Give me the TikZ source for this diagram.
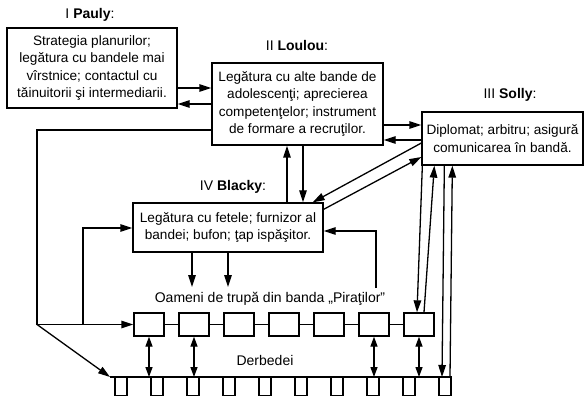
\documentclass[tikz,border=0pt]{standalone}
\usepackage{fontspec}
\setmainfont{Liberation Sans}
\usetikzlibrary{calc, positioning}
\usetikzlibrary{arrows.meta}

\begin{document}
\begin{tikzpicture}[x=1pt, y=-1pt, line width=1.3pt,
  box/.style={draw, align=center, inner sep=0pt, font=\fontsize{13.6}{17.5}\selectfont},
  title/.style={font=\fontsize{14}{16}\selectfont},
  arr/.style={-{Triangle[length=12pt, width=7.5pt]}},
  darr/.style={{Triangle[length=10pt, width=7pt]}-{Triangle[length=10pt, width=7pt]}},
  trupa/.style={draw, minimum width=30pt, minimum height=23pt, inner sep=0pt},
  derb/.style={draw, anchor=north, minimum width=12pt, minimum height=18pt, inner sep=0pt}]
\useasboundingbox (0,0) rectangle (587,401);

% the four leaders
\node[title] (tpauly) at (90,15) {I \textbf{Pauly}:};
\node[box, minimum width=170pt, minimum height=80pt] (pauly) at (92,68)
  {Strategia planurilor;\\ legătura cu bandele mai\\ vîrstnice; contactul cu\\ tăinuitorii şi intermediarii.};
\node[title] (tloulou) at (297,45) {II \textbf{Loulou}:};
\node[box, minimum width=171pt, minimum height=82pt] (loulou) at (297.5,104)
  {Legătura cu alte bande de\\ adolescenţi; aprecierea\\ competenţelor; instrument\\ de formare a recruţilor.};
\node[title] (tsolly) at (510,95) {III \textbf{Solly}:};
\node[box, minimum width=161pt, minimum height=53pt] (solly) at (502.5,138.5)
  {Diplomat; arbitru; asigură\\ comunicarea în bandă.};
\node[title] (tblacky) at (233,187) {IV \textbf{Blacky}:};
\node[box, minimum width=190pt, minimum height=49pt] (blacky) at (228,227.5)
  {Legătura cu fetele; furnizor al\\ bandei; bufon; ţap ispăşitor.};

% troops and loafers
\node[title] (oameni) at (270,299) {Oameni de trupă din banda „Piraţilor”};
\foreach \i in {1,...,7}
  \node[trupa] (t\i) at ({104+45*\i},324.5) {};
\foreach \i [evaluate=\i as \j using int(\i+1)] in {1,...,6}
  \draw (t\i.east) -- (t\j.west);
\node[title] (derbedei) at (265,360) {Derbedei};
\coordinate (dstart) at (110,377);
\foreach \i in {0,...,9}
  \node[derb] (d\i) at ({121+36*\i},377) {};
\draw (dstart) -- (d9.north east);

% helper levels
\coordinate (h88) at (0,88);
\coordinate (h125) at (0,125);
\coordinate (h130) at (0,130);
\coordinate (h140) at (0,140);
\coordinate (h228) at (0,228);
\coordinate (h231) at (0,231);
\coordinate (h287) at (0,287);
\coordinate (h288) at (0,288);
\coordinate (v287) at (287,0);
\coordinate (v303) at (303,0);
\coordinate (v192) at (192,0);
\coordinate (v228) at (228,0);
\coordinate (v376) at (376,0);
\coordinate (corner) at (37,324.5);
\coordinate (fork) at (83,324.5);

% connectors
\draw[arr] (pauly.east |- h88) -- (loulou.west |- h88);
\draw[arr] (loulou.west) -- (loulou.west -| pauly.east);
\draw[arr] (loulou.east |- h125) -- (solly.west |- h125);
\draw[arr] (solly.west |- h140) -- (loulou.east |- h140);
\draw[arr] (v287 |- blacky.north) -- (v287 |- loulou.south);
\draw[arr] (v303 |- loulou.south) -- (v303 |- blacky.north);
\draw[arr] ($(solly.west)+(0,4.5)$) -- ($(blacky.north east)+(-11,0)$);
\draw[arr] ($(blacky.north east)+(0,7)$) -- ($(solly.west)+(0,18.5)$);
\draw[arr] (loulou.west |- h130) -| (corner) -- (t1.west);
\draw[arr] (fork) |- (blacky.west |- h228);
\draw[arr] (corner) -- (dstart);
\draw[arr] (v192 |- blacky.south) -- (v192 |- h287);
\draw[arr] (v228 |- blacky.south) -- (v228 |- h287);
\draw[arr] (v376 |- h288) |- (blacky.east |- h231);
\foreach \i in {1,2,6,7}
  \draw[darr] (t\i.south) -- (t\i.south |- dstart);
\draw[arr] ($(solly.south west)+(1,0)$) -- ($(t7.north)+(-2,0)$);
\draw[arr] ($(t7.north)+(5,0)$) -- ($(solly.south west)+(13,0)$);
\draw[arr] ($(solly.south west)+(23,0)$) -- ($(d9.north)+(-3,0)$);
\draw[arr] ($(d9.north)+(5,0)$) -- ($(solly.south west)+(31,0)$);
\end{tikzpicture}
\end{document}
